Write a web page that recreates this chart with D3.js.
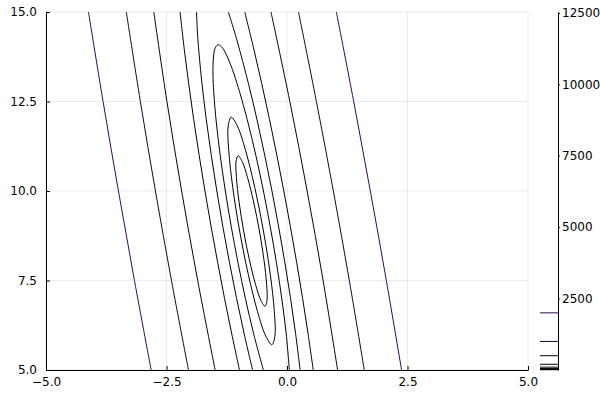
<!DOCTYPE html>
<html>
<head>
<meta charset="utf-8">
<script src="https://cdn.jsdelivr.net/npm/d3@7"></script>
<style>
  body { margin: 0; background: #fff; }
  svg { display: block; font-family: "DejaVu Sans", sans-serif; }
</style>
</head>
<body>
<svg id="chart" width="600" height="400"></svg>
<script>
const WIDTH = 600;
const HEIGHT = 400;
const FONTSIZE = 12;

// axes ticks
const xTicks = [-5, -2.5, 0, 2.5, 5];
const yTicks = [5, 7.5, 10, 12.5, 15];
const cbTicks = [2500, 5000, 7500, 10000, 12500];
const cbRange = [0, 12530];
const levels = [10, 20, 50, 100, 200, 500, 1000, 2000];

// contour lines, [x, y]
const c10 = [[-0.5723,8.883],[-0.6915,9.688],[-0.8176,10.371],[-0.9311,10.827],[-1.0149,10.987],[-1.0563,10.827],[-1.0488,10.371],[-0.9937,9.688],[-0.8993,8.883],[-0.7801,8.078],[-0.654,7.396],[-0.5405,6.94],[-0.4567,6.779],[-0.4153,6.94],[-0.4228,7.396],[-0.4779,8.078]];
const c20 = [[-0.4889,8.883],[-0.669,10.099],[-0.8593,11.13],[-1.0308,11.818],[-1.1574,12.06],[-1.2198,11.818],[-1.2085,11.13],[-1.1252,10.099],[-0.9827,8.883],[-0.8026,7.667],[-0.6123,6.636],[-0.4408,5.948],[-0.3142,5.706],[-0.2518,5.948],[-0.2631,6.636],[-0.3464,7.667]];
const c50 = [[-0.49,5],[-0.69,6],[-0.863,7],[-1.017,8],[-1.156,9],[-1.279,10],[-1.386,11],[-1.473,12],[-1.53,13],[-1.535,13.5],[-1.521,13.8],[-1.489,14],[-1.4265,14.088],[-1.341,14],[-1.256,13.8],[-1.162,13.5],[-1.035,13],[-0.826,12],[-0.647,11],[-0.489,10],[-0.347,9],[-0.22,8],[-0.109,7],[-0.016,6],[0.049,5]];
const c100L = [[-0.714,5],[-0.887,6],[-1.046,7],[-1.193,8],[-1.33,9],[-1.456,10],[-1.571,11],[-1.675,12],[-1.764,13],[-1.835,14],[-1.861,14.5],[-1.877,15]];
const c100R = [[0.273,5],[0.18,6],[0.074,7],[-0.044,8],[-0.173,9],[-0.312,10],[-0.462,11],[-0.624,12],[-0.8,13],[-0.995,14],[-1.101,14.5],[-1.218,15]];
const c200L = [[-0.986,5],[-1.145,6],[-1.296,7],[-1.438,8],[-1.574,9],[-1.702,10],[-1.823,11],[-1.936,12],[-2.04,13],[-2.135,14],[-2.219,15]];
const c200R = [[0.545,5],[0.438,6],[0.324,7],[0.201,8],[0.071,9],[-0.066,10],[-0.211,11],[-0.363,12],[-0.524,13],[-0.695,14],[-0.876,15]];
const c500L = [[-1.491,5],[-1.853,7.5],[-2.186,10],[-2.491,12.5],[-2.764,15]];
const c500R = [[1.05,5],[0.749,7.5],[0.418,10],[0.059,12.5],[-0.332,15]];
const c1000L = [[-2.044,5],[-2.397,7.5],[-2.73,10],[-3.042,12.5],[-3.334,15]];
const c1000R = [[1.603,5],[1.293,7.5],[0.962,10],[0.61,12.5],[0.239,15]];
const c2000L = [[-2.818,5],[-3.165,7.5],[-3.497,10],[-3.816,12.5],[-4.119,15]];
const c2000R = [[2.377,5],[2.061,7.5],[1.729,10],[1.384,12.5],[1.024,15]];

const contourTable = [
  { level: 10, pts: c10, closed: true },
  { level: 20, pts: c20, closed: true },
  { level: 50, pts: c50, closed: false },
  { level: 100, pts: c100L, closed: false },
  { level: 100, pts: c100R, closed: false },
  { level: 200, pts: c200L, closed: false },
  { level: 200, pts: c200R, closed: false },
  { level: 500, pts: c500L, closed: false },
  { level: 500, pts: c500R, closed: false },
  { level: 1000, pts: c1000L, closed: false },
  { level: 1000, pts: c1000R, closed: false },
  { level: 2000, pts: c2000L, closed: false },
  { level: 2000, pts: c2000R, closed: false },
];

const svg = d3.select("#chart");
const plot = { left: 46, right: 528, top: 12, bottom: 370 };
const cb = { left: 540, right: 558 };

const x = d3.scaleLinear().domain([-5, 5]).range([plot.left, plot.right]);
const y = d3.scaleLinear().domain([5, 15]).range([plot.bottom, plot.top]);
const cbScale = d3.scaleLinear().domain(cbRange).range([plot.bottom, plot.top]);
const color = d3.scaleSequential(d3.interpolateInferno).domain(cbRange);
const fmt = d3.format(".1f");

/* grid */
const grid = svg.append("g").attr("class", "grid");
grid.selectAll("line.gx")
  .data(xTicks)
  .enter()
  .append("line")
  .attr("x1", (d) => x(d)).attr("x2", (d) => x(d))
  .attr("y1", plot.top).attr("y2", plot.bottom)
  .attr("stroke", "#000").attr("stroke-opacity", 0.08).attr("stroke-width", 1);
grid.selectAll("line.gy")
  .data(yTicks)
  .enter()
  .append("line")
  .attr("y1", (d) => y(d)).attr("y2", (d) => y(d))
  .attr("x1", plot.left).attr("x2", plot.right)
  .attr("stroke", "#000").attr("stroke-opacity", 0.08).attr("stroke-width", 1);

/* contours */
svg.append("clipPath").attr("id", "clip")
  .append("rect")
  .attr("x", plot.left).attr("y", plot.top)
  .attr("width", plot.right - plot.left).attr("height", plot.bottom - plot.top);

const openLine = d3.line().x((d) => x(d[0])).y((d) => y(d[1])).curve(d3.curveCatmullRom.alpha(0.5));
const closedLine = d3.line().x((d) => x(d[0])).y((d) => y(d[1])).curve(d3.curveCatmullRomClosed.alpha(0.5));

svg.append("g")
  .attr("clip-path", "url(#clip)")
  .selectAll("path")
  .data(contourTable)
  .enter()
  .append("path")
  .attr("d", (d) => (d.closed ? closedLine(d.pts) : openLine(d.pts)))
  .attr("fill", "none")
  .attr("stroke", (d) => color(d.level))
  .attr("stroke-width", 1);

/* axes */
const xAxis = svg.append("g")
  .attr("transform", `translate(0,${plot.bottom})`)
  .call(d3.axisBottom(x).tickValues(xTicks).tickFormat(fmt).tickSizeInner(-4).tickSizeOuter(0).tickPadding(7));
const yAxis = svg.append("g")
  .attr("transform", `translate(${plot.left},0)`)
  .call(d3.axisLeft(y).tickValues(yTicks).tickFormat(fmt).tickSizeInner(-4).tickSizeOuter(0).tickPadding(9));

[xAxis, yAxis].forEach((a) => {
  a.selectAll("text").attr("font-size", FONTSIZE).attr("fill", "#000").attr("font-family", "DejaVu Sans");
  a.select(".domain").attr("stroke", "#000");
  a.selectAll(".tick line").attr("stroke", "#000");
});

/* colorbar */
const cbG = svg.append("g");
cbG.selectAll("line")
  .data(levels)
  .enter()
  .append("line")
  .attr("x1", cb.left).attr("x2", cb.right)
  .attr("y1", (d) => cbScale(d)).attr("y2", (d) => cbScale(d))
  .attr("stroke", (d) => color(d))
  .attr("stroke-width", 1);

const cbAxis = svg.append("g")
  .attr("transform", `translate(${cb.right},0)`)
  .call(d3.axisRight(cbScale).tickValues(cbTicks).tickFormat(d3.format("d")).tickSizeInner(2).tickSizeOuter(0).tickPadding(2));
cbAxis.selectAll("text").attr("font-size", FONTSIZE).attr("fill", "#000").attr("font-family", "DejaVu Sans");
cbAxis.select(".domain").attr("stroke", "#000");
cbAxis.selectAll(".tick line").attr("stroke", "#000");
</script>
</body>
</html>
